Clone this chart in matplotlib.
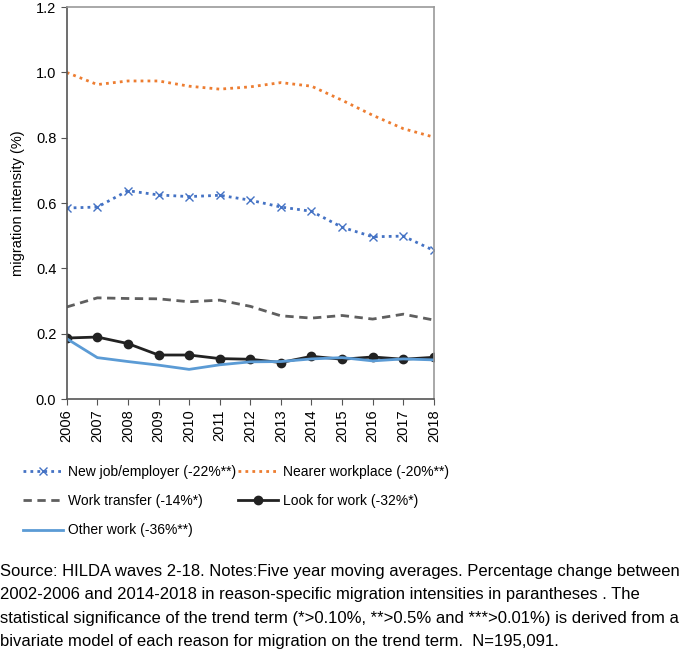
import numpy as np
import matplotlib.pyplot as plt

plt.rcParams['font.family'] = ['Liberation Sans', 'DejaVu Sans']

years = np.arange(2006, 2019)
new_job = [0.585, 0.588, 0.638, 0.625, 0.620, 0.624, 0.609, 0.588, 0.575, 0.526, 0.497, 0.499, 0.455]
nearer_work = [1.000, 0.963, 0.974, 0.974, 0.958, 0.949, 0.956, 0.969, 0.958, 0.915, 0.869, 0.828, 0.802]
work_transfer = [0.282, 0.310, 0.308, 0.307, 0.298, 0.303, 0.284, 0.255, 0.248, 0.256, 0.245, 0.260, 0.242]
look_work = [0.187, 0.190, 0.170, 0.135, 0.135, 0.124, 0.122, 0.112, 0.131, 0.122, 0.129, 0.122, 0.128]
other_work = [0.185, 0.127, 0.115, 0.104, 0.091, 0.105, 0.114, 0.115, 0.123, 0.127, 0.117, 0.123, 0.120]

labels = ["New job/employer (-22%**)", "Nearer workplace (-20%**)",
          "Work transfer (-14%*)", "Look for work (-32%*)",
          "Other work (-36%**)"]

caption = ("Source: HILDA waves 2-18. Notes:Five year moving averages. Percentage change between\n"
           "2002-2006 and 2014-2018 in reason-specific migration intensities in parantheses . The\n"
           "statistical significance of the trend term (*>0.10%, **>0.5% and ***>0.01%) is derived from a\n"
           "bivariate model of each reason for migration on the trend term.  N=195,091.")

fig = plt.figure(figsize=(6.85, 6.5), dpi=100)
ax = fig.add_axes([0.0974, 0.386, 0.536, 0.603])

ax.plot(years, new_job, color="#4472C4", ls=(0, (1, 1.5)), lw=2, marker="x",
        ms=6, mew=1, label=labels[0])
ax.plot(years, nearer_work, color="#ED7D31", ls=(0, (1, 1.5)), lw=2, label=labels[1])
ax.plot(years, work_transfer, color="#5F5F5F", ls=(0, (3, 2)), lw=2, label=labels[2])
ax.plot(years, look_work, color="#222222", lw=2, marker="o", ms=6, label=labels[3])
ax.plot(years, other_work, color="#5B9BD5", lw=2, label=labels[4])

ax.set_xlim(2006, 2018)
ax.set_ylim(0, 1.2)
ax.set_xticks(years)
ax.set_xticklabels([str(y) for y in years], rotation=90)
ax.set_yticks(np.arange(0, 1.21, 0.2))
ax.set_yticklabels([f"{v:.1f}" for v in np.arange(0, 1.21, 0.2)])
ax.tick_params(labelsize=10.5, direction="out", length=4, color="#555555")
ax.set_ylabel("migration intensity (%)", fontsize=10.5, labelpad=8)
for s in ax.spines.values():
    s.set_color("#555555")
    s.set_linewidth(1.2)
ax.spines["right"].set_color("#999999")
ax.spines["top"].set_color("#999999")

handles, labs = ax.get_legend_handles_labels()
order = [0, 2, 4, 1, 3]  # row-major fill for two columns
fig.legend([handles[i] for i in order], [labs[i] for i in order],
           loc="upper left", bbox_to_anchor=(0.015, 0.304), ncol=2,
           frameon=False, fontsize=10, handlelength=2.9, handletextpad=0.35,
           columnspacing=0.15, labelspacing=1.1)

fig.text(0.0, 0.067, caption, fontsize=12, va="center", ha="left", linespacing=1.68)

fig.savefig("out.png", dpi=100)
